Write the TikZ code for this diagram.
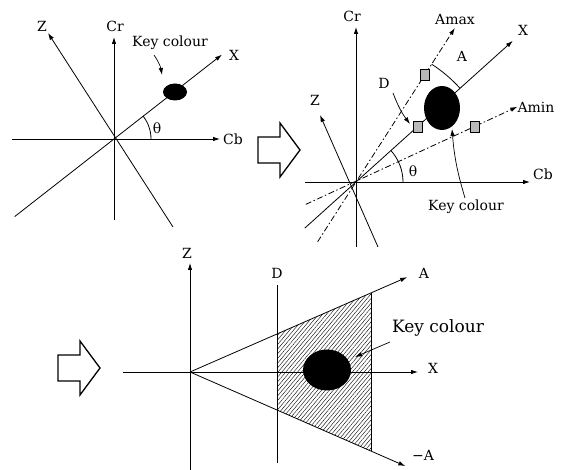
\documentclass[tikz,border=0pt]{standalone}
\usepackage{fontspec}
\setmainfont{DejaVu Serif}
\usetikzlibrary{arrows.meta,calc,shapes.geometric,patterns.meta}
\begin{document}
\begin{tikzpicture}[
		x=1pt, y=1pt,
		axis/.style={-{Latex[length=7pt,width=4.5pt]}, line width=0.8pt},
		plain/.style={line width=0.8pt},
		bound/.style={-{Latex[length=7pt,width=4.5pt]}, line width=0.8pt, dash pattern=on 6pt off 2.5pt on 1.5pt off 2.5pt},
		pointer/.style={-{Latex[length=7pt,width=4.5pt]}, line width=0.7pt},
		lbl/.style={font=\fontsize{14}{16}\selectfont, inner sep=0pt},
		blob/.style={ellipse, fill=black, inner sep=0pt},
		marker/.style={rectangle, draw, line width=0.6pt, fill=gray!55, minimum width=9pt, minimum height=11pt, inner sep=0pt},
		hollow/.pic={\draw[line width=1.3pt, line join=miter] (0,-13)--(22,-13)--(22,-27)--(42,0)--(22,27)--(22,13)--(0,13)--cycle;}
		]
		\useasboundingbox (0,0) rectangle (569,470);
		
		% first view: Cb-Cr plane
		\coordinate (o1) at (114,331);
		\coordinate (cbA) at (12,331);
		\coordinate (cbB) at (220,331);
		\coordinate (crA) at (114,250);
		\coordinate (crB) at (114,433);
		\coordinate (xA) at ($(o1)+(218:126)$);
		\coordinate (xB) at ($(o1)+(38:137)$);
		\coordinate (zA) at (173,243);
		\coordinate (zB) at (48,437);
		\draw[axis] (cbA) -- (cbB);
		\draw[axis] (crA) -- (crB);
		\draw[axis] (xA) -- (xB);
		\draw[axis] (zA) -- (zB);
		\coordinate (th1) at ($(o1)+(37,0)$);
		\draw[plain] (th1) arc[start angle=0, end angle=38, radius=37];
		\node[blob, minimum width=24pt, minimum height=17pt] (key1) at (175,378) {};
		\node[lbl] (labZ1) at (42,444) {Z};
		\node[lbl] (labCr1) at (115,444) {Cr};
		\node[lbl] (labX1) at (234,415) {X};
		\node[lbl] (labCb1) at (233,331) {Cb};
		\node[lbl] (labTh1) at (157,342) {θ};
		\node[lbl] (labKey1) at (170,427) {Key colour};
		\coordinate (p1a) at (154,415);
		\coordinate (p1b) at (162,395);
		\draw[pointer] (p1a) to[bend left=12] (p1b);
		
		\pic at (258,320) {hollow};
		
		% second view: limits Amax, Amin
		\coordinate (o2) at (356,288);
		\coordinate (cb2A) at (305,288);
		\coordinate (cb2B) at (530,288);
		\coordinate (cr2A) at (356,223);
		\coordinate (cr2B) at (356,443);
		\coordinate (x2A) at ($(o2)+(222:69)$);
		\coordinate (x2B) at ($(o2)+(42:211)$);
		\coordinate (max2A) at ($(o2)+(237.3:71)$);
		\coordinate (max2B) at ($(o2)+(57.3:183)$);
		\coordinate (min2A) at ($(o2)+(204:55)$);
		\coordinate (min2B) at ($(o2)+(25:178)$);
		\coordinate (z2A) at (378,223);
		\coordinate (z2B) at (320,355);
		\draw[axis] (cb2A) -- (cb2B);
		\draw[axis] (cr2A) -- (cr2B);
		\draw[axis] (x2A) -- (x2B);
		\draw[axis] (z2A) -- (z2B);
		\draw[bound] (max2A) -- (max2B);
		\draw[bound] (min2A) -- (min2B);
		\coordinate (th2) at ($(o2)+(47,0)$);
		\draw[plain] (th2) arc[start angle=0, end angle=42, radius=47];
		\coordinate (ang2) at ($(o2)+(42:140)$);
		\draw[plain] (ang2) arc[start angle=42, end angle=57.3, radius=140];
		\node[blob, minimum width=36pt, minimum height=44pt] (key2) at (442,362) {};
		\node[marker] (sqMax) at ($(o2)+(57.3:127)$) {};
		\node[marker] (sqD) at ($(o2)+(42:83)$) {};
		\node[marker] (sqMin) at ($(o2)+(25:131)$) {};
		\node[lbl] (labCr2) at (352,454) {Cr};
		\node[lbl] (labAmax) at (455,450) {Amax};
		\node[lbl] (labX2) at (523,440) {X};
		\node[lbl] (labA2) at (462,414) {A};
		\node[lbl] (labD2) at (384,387) {D};
		\node[lbl] (labZ2) at (315,370) {Z};
		\node[lbl] (labAmin) at (536,363) {Amin};
		\node[lbl] (labCb2) at (543,296) {Cb};
		\node[lbl] (labTh2) at (413,299) {θ};
		\node[lbl] (labKey2) at (466,263) {Key colour};
		\coordinate (pDa) at (393,377);
		\coordinate (pDb) at (410,346);
		\draw[pointer] (pDa) to[bend right=8] (pDb);
		\coordinate (pKa) at (465,272);
		\coordinate (pKb) at (452,341);
		\draw[pointer] (pKa) to[bend left=6] (pKb);
		
		\pic at (58,102) {hollow};
		
		% third view: X-Z plane with the keying region
		\coordinate (o3) at (190,98);
		\coordinate (d3top) at (277,136);
		\coordinate (d3bot) at (277,60);
		\coordinate (r3top) at (371,177);
		\coordinate (r3bot) at (371,19);
		\fill[pattern={Lines[angle=50,distance=3pt,line width=0.4pt]}] (d3top) -- (r3top) -- (r3bot) -- (d3bot) -- cycle;
		\coordinate (x3A) at (123,98);
		\coordinate (x3B) at (418,98);
		\coordinate (z3A) at (190,0);
		\coordinate (z3B) at (190,207);
		\coordinate (d3A) at (277,7);
		\coordinate (d3B) at (277,185);
		\coordinate (a3B) at ($(o3)+(23.6:237)$);
		\coordinate (na3B) at ($(o3)+(-23.6:235)$);
		\draw[axis] (x3A) -- (x3B);
		\draw[axis] (z3A) -- (z3B);
		\draw[plain] (d3A) -- (d3B);
		\draw[axis] (o3) -- (a3B);
		\draw[axis] (o3) -- (na3B);
		\draw[plain] (r3top) -- (r3bot);
		\node[blob, minimum width=48pt, minimum height=41pt] (key3) at (327,100) {};
		\node[lbl] (labZ3) at (187,217) {Z};
		\node[lbl] (labD3) at (277,197) {D};
		\node[lbl] (labA3) at (424,197) {A};
		\node[lbl] (labX3) at (433,102) {X};
		\node[lbl] (labNA3) at (423,15) {−A};
		\node[lbl, font=\fontsize{17}{19}\selectfont] (labKey3) at (438,142) {Key colour};
		\coordinate (p3a) at (390,128);
		\coordinate (p3b) at (355,113);
		\draw[pointer] (p3a) -- (p3b);
		
	\end{tikzpicture}
\end{document}
